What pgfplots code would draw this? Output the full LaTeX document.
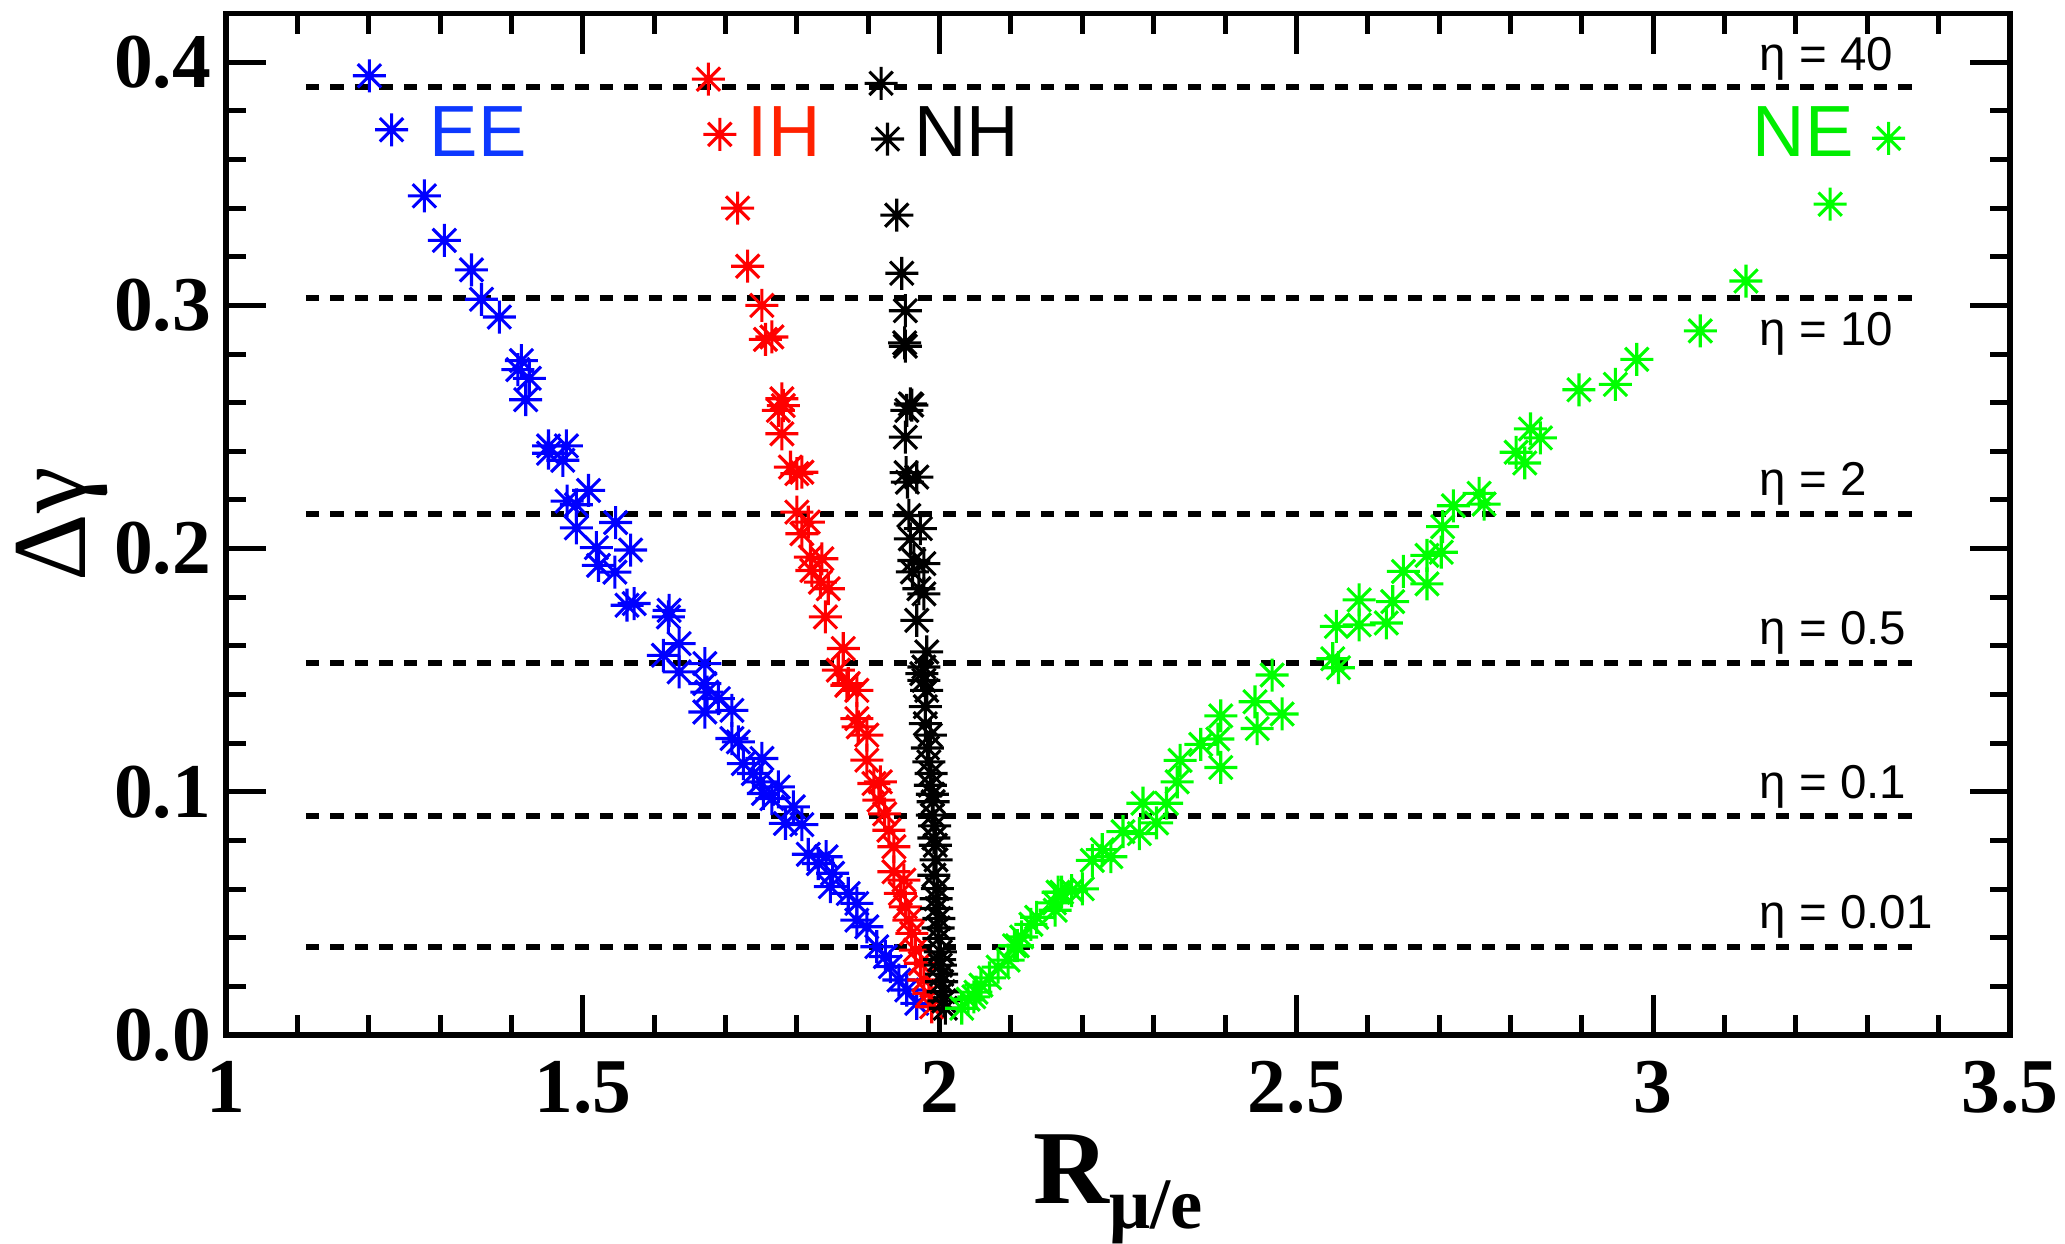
\documentclass[border=0pt]{standalone}
\usepackage{pgfplots}
\pgfplotsset{compat=1.18}
\usepackage{fontspec}
\setmainfont{Liberation Serif}
\newfontfamily\sansf{Liberation Sans}

\definecolor{ptblue}{rgb}{0,0,1}
\definecolor{eeblue}{rgb}{0.05,0.22,1}
\definecolor{ihred}{rgb}{1,0.13,0}
\definecolor{ptgreen}{rgb}{0,1,0}
\definecolor{negreen}{rgb}{0,0.93,0}

\pgfdeclareplotmark{star8}{%
 \pgfpathmoveto{\pgfqpoint{0pt}{\pgfplotmarksize}}%
 \pgfpathlineto{\pgfqpoint{0pt}{-\pgfplotmarksize}}%
 \pgfpathmoveto{\pgfqpoint{\pgfplotmarksize}{0pt}}%
 \pgfpathlineto{\pgfqpoint{-\pgfplotmarksize}{0pt}}%
 \pgfpathmoveto{\pgfqpoint{0.7071\pgfplotmarksize}{0.7071\pgfplotmarksize}}%
 \pgfpathlineto{\pgfqpoint{-0.7071\pgfplotmarksize}{-0.7071\pgfplotmarksize}}%
 \pgfpathmoveto{\pgfqpoint{0.7071\pgfplotmarksize}{-0.7071\pgfplotmarksize}}%
 \pgfpathlineto{\pgfqpoint{-0.7071\pgfplotmarksize}{0.7071\pgfplotmarksize}}%
 \pgfusepathqstroke}

\pgfplotstableread{
x y
1.201 0.3944
1.232 0.3722
1.278 0.3450
1.306 0.3267
1.344 0.3146
1.358 0.3025
1.383 0.2952
1.414 0.2773
1.409 0.2736
1.425 0.2700
1.420 0.2612
1.452 0.2422
1.452 0.2392
1.477 0.2422
1.472 0.2363
1.508 0.2239
1.478 0.2195
1.491 0.2180
1.491 0.2085
1.546 0.2107
1.519 0.2004
1.567 0.1994
1.522 0.1931
1.545 0.1903
1.562 0.1767
1.572 0.1774
1.621 0.1746
1.620 0.1719
1.635 0.1609
1.613 0.1561
1.635 0.1493
1.671 0.1527
1.671 0.1445
1.674 0.1410
1.690 0.1383
1.671 0.1328
1.709 0.1335
1.709 0.1219
1.718 0.1205
1.751 0.1137
1.725 0.1116
1.739 0.1075
1.749 0.1041
1.774 0.1020
1.753 0.0993
1.765 0.0972
1.795 0.0938
1.784 0.0870
1.807 0.0865
1.816 0.0743
1.841 0.0733
1.830 0.0705
1.850 0.0665
1.847 0.0610
1.872 0.0582
1.884 0.0541
1.884 0.0472
1.898 0.0445
1.912 0.0363
1.924 0.0322
1.931 0.0281
1.943 0.0226
1.954 0.0185
1.968 0.0130
}\EEdata

\pgfplotstableread{
x y
1.676 0.3930
1.692 0.3703
1.717 0.3400
1.731 0.3161
1.751 0.3000
1.756 0.2860
1.765 0.2870
1.779 0.2616
1.781 0.2588
1.774 0.2568
1.779 0.2472
1.791 0.2335
1.800 0.2308
1.807 0.2314
1.800 0.2150
1.816 0.2109
1.807 0.2061
1.819 0.1965
1.835 0.1958
1.821 0.1910
1.833 0.1862
1.844 0.1835
1.840 0.1719
1.865 0.1589
1.858 0.1500
1.872 0.1445
1.884 0.1417
1.870 0.1438
1.884 0.1301
1.886 0.1267
1.898 0.1233
1.898 0.1130
1.908 0.1034
1.917 0.1041
1.915 0.0966
1.923 0.0909
1.929 0.0842
1.936 0.0774
1.936 0.0671
1.950 0.0637
1.945 0.0582
1.952 0.0527
1.957 0.0472
1.961 0.0418
1.966 0.0349
1.973 0.0295
1.978 0.0226
1.985 0.0171
1.989 0.0116
}\IHdata

\pgfplotstableread{
x y
1.918 0.3913
1.927 0.3684
1.940 0.3371
1.947 0.3132
1.952 0.2978
1.951 0.2846
1.952 0.2832
1.959 0.2595
1.954 0.2568
1.961 0.2590
1.952 0.2458
1.953 0.2312
1.968 0.2294
1.955 0.2273
1.957 0.2136
1.973 0.2082
1.959 0.2040
1.964 0.1951
1.978 0.1938
1.962 0.1904
1.971 0.1835
1.978 0.1814
1.968 0.1705
1.982 0.1575
1.975 0.1486
1.982 0.1417
1.978 0.1513
1.978 0.1458
1.980 0.1350
1.980 0.1280
1.987 0.1233
1.983 0.1180
1.985 0.1123
1.988 0.1075
1.987 0.1027
1.990 0.0990
1.991 0.0959
1.990 0.0904
1.993 0.0860
1.992 0.0810
1.994 0.0780
1.995 0.0720
1.992 0.0657
1.997 0.0602
1.995 0.0560
1.996 0.0520
1.999 0.0479
1.998 0.0440
1.999 0.0397
2.001 0.0342
2.000 0.0310
2.001 0.0287
2.003 0.0250
2.003 0.0219
2.005 0.0178
2.006 0.0140
2.008 0.0110
}\NHdata

\pgfplotstableread{
x y
2.031 0.0110
2.040 0.0147
2.048 0.0157
2.051 0.0176
2.058 0.0205
2.070 0.0235
2.082 0.0279
2.096 0.0308
2.105 0.0367
2.109 0.0367
2.115 0.0403
2.128 0.0455
2.136 0.0484
2.161 0.0543
2.166 0.0587
2.162 0.0513
2.171 0.0587
2.185 0.0594
2.200 0.0601
2.214 0.0718
2.228 0.0762
2.240 0.0733
2.257 0.0836
2.280 0.0828
2.304 0.0872
2.285 0.0953
2.318 0.0953
2.333 0.1041
2.337 0.1129
2.366 0.1195
2.390 0.1217
2.394 0.1100
2.394 0.1312
2.442 0.1370
2.445 0.1260
2.466 0.1480
2.480 0.1320
2.551 0.1547
2.559 0.1510
2.556 0.1680
2.588 0.1686
2.588 0.1789
2.626 0.1694
2.635 0.1782
2.650 0.1906
2.683 0.1855
2.683 0.1972
2.703 0.1985
2.705 0.2090
2.720 0.2176
2.756 0.2227
2.763 0.2183
2.808 0.2396
2.820 0.2352
2.828 0.2492
2.842 0.2455
2.896 0.2653
2.947 0.2675
2.977 0.2778
3.066 0.2895
3.130 0.3100
3.248 0.3416
3.330 0.3687
}\NEdata

\begin{document}
\begin{tikzpicture}
\begin{axis}[
  at={(0pt,0pt)}, anchor=south west,
  scale only axis, width=356.8pt, height=204.3pt,
  xmin=1, xmax=3.5, ymin=0, ymax=0.42,
  clip=false,
  axis line style={line width=1.05pt},
  xtick={1,1.5,2,2.5,3,3.5}, xticklabels={1,1.5,2,2.5,3,3.5},
  ytick={0,0.1,0.2,0.3,0.4}, yticklabels={0.0,0.1,0.2,0.3,0.4},
  minor x tick num=4, minor y tick num=4,
  tick align=inside, xtick pos=both, ytick pos=both,
  major tick length=8pt, minor tick length=4pt,
  tick style={black, line width=1pt},
  ticklabel style={font=\fontsize{15.5}{15.5}\selectfont\bfseries},
  xticklabel style={inner sep=0pt, yshift=-5pt},
  yticklabel style={inner sep=0pt, xshift=-2.8pt},
  xlabel={\fontsize{21}{21}\selectfont\bfseries R\raisebox{-5pt}{\fontsize{14.5}{14.5}\selectfont μ/e}},
  ylabel={\fontsize{21}{21}\selectfont Δγ},
  xlabel style={at={(axis description cs:0.5,-0.1645)}, anchor=base, inner sep=0pt},
  ylabel style={at={(axis description cs:-0.092,0.5)}, anchor=center, inner sep=0pt},
]
\addplot[only marks, mark=star8, mark size=3.3pt, color=ptblue, mark options={line width=0.62pt}] table {\EEdata};
\addplot[only marks, mark=star8, mark size=3.3pt, color=red, mark options={line width=0.62pt}] table {\IHdata};
\addplot[only marks, mark=star8, mark size=3.3pt, color=black, mark options={line width=0.62pt}] table {\NHdata};
\addplot[only marks, mark=star8, mark size=3.3pt, color=ptgreen, mark options={line width=0.62pt}] table {\NEdata};

\addplot[black, line width=1.15pt, dash pattern=on 2.7pt off 2.2pt] coordinates {(1.112,0.3898) (3.374,0.3898)};
\addplot[black, line width=1.15pt, dash pattern=on 2.7pt off 2.2pt] coordinates {(1.112,0.3029) (3.374,0.3029)};
\addplot[black, line width=1.15pt, dash pattern=on 2.7pt off 2.2pt] coordinates {(1.112,0.2142) (3.374,0.2142)};
\addplot[black, line width=1.15pt, dash pattern=on 2.7pt off 2.2pt] coordinates {(1.112,0.1530) (3.374,0.1530)};
\addplot[black, line width=1.15pt, dash pattern=on 2.7pt off 2.2pt] coordinates {(1.112,0.0900) (3.374,0.0900)};
\addplot[black, line width=1.15pt, dash pattern=on 2.7pt off 2.2pt] coordinates {(1.112,0.0363) (3.374,0.0363)};

\node[anchor=base west, inner sep=0pt, font=\sansf\fontsize{14.5}{14.5}\selectfont, text=eeblue] at (axis cs:1.284,0.3614) {EE};
\node[anchor=base west, inner sep=0pt, font=\sansf\fontsize{14.5}{14.5}\selectfont, text=ihred] at (axis cs:1.730,0.3614) {IH};
\node[anchor=base west, inner sep=0pt, font=\sansf\fontsize{14.5}{14.5}\selectfont, text=black] at (axis cs:1.9636,0.3614) {NH};
\node[anchor=base west, inner sep=0pt, font=\sansf\fontsize{14.5}{14.5}\selectfont, text=negreen] at (axis cs:3.138,0.3614) {NE};

\node[anchor=base west, inner sep=0pt, font=\sansf\fontsize{9.5}{9.5}\selectfont] at (axis cs:3.148,0.3967) {η = 40};
\node[anchor=base west, inner sep=0pt, font=\sansf\fontsize{9.5}{9.5}\selectfont] at (axis cs:3.148,0.2836) {η = 10};
\node[anchor=base west, inner sep=0pt, font=\sansf\fontsize{9.5}{9.5}\selectfont] at (axis cs:3.148,0.2220) {η = 2};
\node[anchor=base west, inner sep=0pt, font=\sansf\fontsize{9.5}{9.5}\selectfont] at (axis cs:3.148,0.1604) {η = 0.5};
\node[anchor=base west, inner sep=0pt, font=\sansf\fontsize{9.5}{9.5}\selectfont] at (axis cs:3.148,0.0974) {η = 0.1};
\node[anchor=base west, inner sep=0pt, font=\sansf\fontsize{9.5}{9.5}\selectfont] at (axis cs:3.148,0.0437) {η = 0.01};
\end{axis}
\path (-45.2pt,-41.8pt) rectangle (367.8pt,207pt);
\end{tikzpicture}
\end{document}
